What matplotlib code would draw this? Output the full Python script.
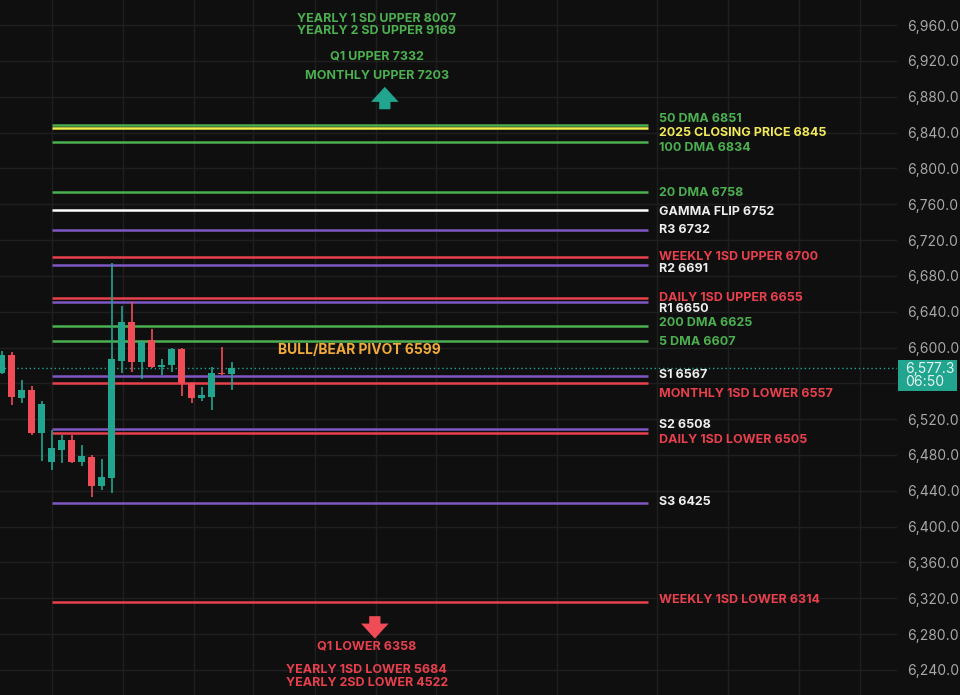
import numpy as np
import matplotlib.pyplot as plt
from matplotlib.patches import Rectangle

# candles (oldest -> newest)
opens = [6571, 6592, 6544, 6553, 6505, 6472, 6486, 6497, 6472, 6478, 6445, 6454,
         6585, 6628, 6584, 6608, 6578, 6580, 6598, 6560, 6544, 6545, 6572, 6570]
highs = [6596, 6595, 6564, 6557, 6540, 6508, 6502, 6502, 6491, 6480, 6475, 6694,
         6646, 6651, 6608, 6621, 6587, 6600, 6599, 6561, 6556, 6578, 6601, 6584]
lows = [6570, 6536, 6538, 6502, 6473, 6463, 6471, 6471, 6468, 6433, 6441, 6438,
        6572, 6573, 6565, 6577, 6569, 6573, 6546, 6538, 6540, 6530, 6569, 6553]
closes = [6592, 6545, 6553, 6504, 6537, 6488, 6497, 6472, 6479, 6445, 6455, 6587,
          6629, 6584, 6606, 6578, 6580, 6598, 6560, 6544, 6547, 6572, 6570, 6577.3]
last_price = 6577.3
last_time = "06:50"

# key levels: name, value in the label, where the line is drawn on the chart
level_names = ["50 DMA", "2025 CLOSING PRICE", "100 DMA", "20 DMA", "GAMMA FLIP", "R3",
               "WEEKLY 1SD UPPER", "R2", "DAILY 1SD UPPER", "R1", "200 DMA", "5 DMA",
               "S1", "MONTHLY 1SD LOWER", "S2", "DAILY 1SD LOWER", "S3", "WEEKLY 1SD LOWER"]
level_values = [6851, 6845, 6834, 6758, 6752, 6732, 6700, 6691, 6655, 6650, 6625, 6607,
                6567, 6557, 6508, 6505, 6425, 6314]
level_lines = [6848, 6845, 6830, 6774, 6754, 6731, 6701, 6692, 6655, 6651, 6624, 6607,
               6568, 6560, 6509, 6505, 6426, 6316]
level_kinds = ["dma", "close", "dma", "dma", "gamma", "pivot", "sd", "pivot", "sd", "pivot",
               "dma", "dma", "pivot", "sd", "pivot", "sd", "pivot", "sd"]

top_notes = ["YEARLY 1 SD UPPER 8007", "YEARLY 2 SD UPPER 9169", "Q1 UPPER 7332", "MONTHLY UPPER 7203"]
bottom_notes = ["Q1 LOWER 6358", "YEARLY 1SD LOWER 5684", "YEARLY 2SD LOWER 4522"]
pivot_note = "BULL/BEAR PIVOT 6599"
yticks = np.arange(6240, 6961, 40)

# styling
bg = "#0f0f0f"
grid_c = "#1f1f1f"
up_c = "#22a58f"
down_c = "#ef4c57"
line_colors = {"dma": "#4caf50", "close": "#ecec4a", "gamma": "#ffffff",
               "pivot": "#7e57c2", "sd": "#e8404c"}
text_colors = {"dma": "#4caf50", "close": "#f2ea5a", "gamma": "#eeeeee",
               "pivot": "#eeeeee", "sd": "#e8404c"}
# label heights (so labels do not collide)
label_y = [6855.3, 6839.7, 6822.9, 6772.7, 6751.5, 6731.4, 6701.2, 6687.8, 6655.5,
           6643.0, 6627.6, 6606.4, 6569.5, 6548.3, 6513.7, 6497.0, 6427.7, 6318.3]
vgrid_px = [52, 123, 194, 253, 315, 376, 436, 497, 557, 657, 728, 799, 860]

plt.rcParams['font.family'] = ['Inter', 'DejaVu Sans']

fig = plt.figure(figsize=(9.6, 6.95), dpi=100, facecolor=bg)
ax = fig.add_axes([0, 0, 897 / 960, 1])
ax.set_facecolor(bg)
ax.set_xlim(-0.17, 89.5)
ax.set_ylim(6212, 6988)

# grid
for g in vgrid_px:
    ax.axvline((g - 1.7) / 10.0, color=grid_c, lw=1, zorder=0)
for t in yticks:
    ax.axhline(t, color=grid_c, lw=1, zorder=0)

# levels
for v, k in zip(level_lines, level_kinds):
    ax.hlines(v, 5.0, 64.6, color=line_colors[k], lw=1.8, zorder=2)
for n, v, k, ly in zip(level_names, level_values, level_kinds, label_y):
    ax.text(65.7, ly, f"{n} {v}", color=text_colors[k], fontsize=9, fontweight='bold',
            va='center', ha='left')

# candles
x = np.arange(len(opens))
o = np.array(opens)
c = np.array(closes)
cols = [up_c if cc >= oo else down_c for oo, cc in zip(o, c)]
ax.vlines(x, lows, highs, colors=cols, lw=1.2, zorder=3)
body_lo = np.minimum(o, c)
body_h = np.maximum(np.abs(c - o), 1.5)
ax.bar(x, body_h, bottom=body_lo, width=0.72, color=cols, zorder=4)

# last price
ax.axhline(last_price, color=up_c, lw=1, ls=(0, (1, 2)), zorder=1)

# notes
ax.text(35.8, 6597.2, pivot_note, color="#f2a93b", fontsize=10, fontweight='bold',
        ha='center', va='center')
for s, yy in zip(top_notes, [6966.9, 6953.5, 6924.4, 6903.2]):
    ax.text(37.5, yy, s, color="#4caf50", fontsize=9, fontweight='bold', ha='center', va='center')
for s, yy in zip(bottom_notes, [6265.8, 6240.1, 6225.6]):
    ax.text(36.5, yy, s, color="#e8404c", fontsize=9, fontweight='bold', ha='center', va='center')

arrow = 'simple,head_width=1.1,head_length=0.6,tail_width=0.45'
ax.annotate('', xy=(38.3, 6891), xytext=(38.3, 6866),
            arrowprops=dict(arrowstyle=arrow, mutation_scale=18, color=up_c, lw=0,
                            shrinkA=0, shrinkB=0))
ax.annotate('', xy=(37.3, 6275), xytext=(37.3, 6300),
            arrowprops=dict(arrowstyle=arrow, mutation_scale=18, color=down_c, lw=0,
                            shrinkA=0, shrinkB=0))

# price axis (the 6,560 label sits under the price badge)
ax.yaxis.tick_right()
ax.set_yticks(yticks)
ax.set_yticklabels(["" if t == 6560 else f"{t:,.1f}" for t in yticks])
ax.tick_params(axis='y', length=0, pad=7, labelsize=10, labelcolor="#a8a8a8")
ax.set_xticks([])
for sp in ax.spines.values():
    sp.set_visible(False)

fig.patches.append(Rectangle((898 / 960, 1 - 391 / 695), 59 / 960, 31 / 695,
                             transform=fig.transFigure, fc=up_c, ec='none', zorder=5))
fig.text(905 / 960, 1 - 375.5 / 695, f"{last_price:,.1f}\n{last_time}", color="#e6f5f1",
         fontsize=10, va='center', ha='left', linespacing=1.0, zorder=6)

fig.savefig("out.png", dpi=100, facecolor=bg)
